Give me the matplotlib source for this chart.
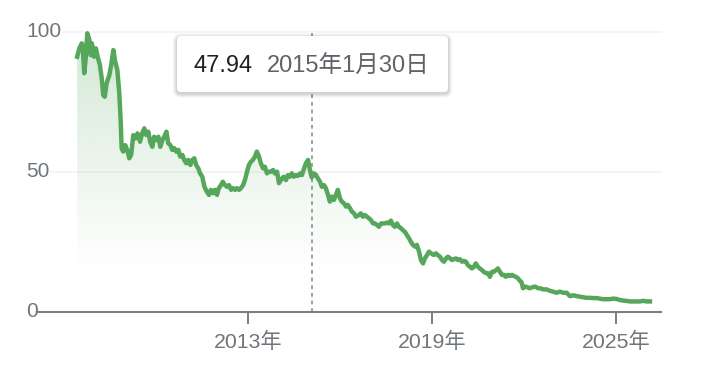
import numpy as np
import matplotlib
matplotlib.use('Agg')
import matplotlib.pyplot as plt
from matplotlib.patches import FancyBboxPatch
from matplotlib.lines import Line2D
from matplotlib.colors import to_rgb
import matplotlib.transforms as mtransforms

plt.rcParams['font.family'] = ['Liberation Sans', 'Noto Sans CJK JP']

# price history (decimal year, price)
years = [
    2007.43, 2007.50, 2007.58, 2007.61, 2007.66, 2007.71, 2007.76, 2007.83, 2007.87, 2007.91,
    2007.98, 2008.04, 2008.11, 2008.17, 2008.23, 2008.28, 2008.33, 2008.39, 2008.48, 2008.54,
    2008.61, 2008.67, 2008.74, 2008.80, 2008.85, 2008.88, 2008.93, 2009.00, 2009.06, 2009.13,
    2009.19, 2009.26, 2009.33,
    2009.40, 2009.48, 2009.55, 2009.62, 2009.68, 2009.75, 2009.81, 2009.88, 2009.94, 2010.01,
    2010.08, 2010.14, 2010.21, 2010.27, 2010.34, 2010.40, 2010.47, 2010.53, 2010.60, 2010.66,
    2010.73, 2010.79, 2010.86, 2010.92, 2010.99, 2011.05, 2011.12, 2011.18, 2011.25, 2011.31,
    2011.38, 2011.44, 2011.51, 2011.58,
    2011.66, 2011.73, 2011.79, 2011.86, 2011.92, 2011.99, 2012.05, 2012.12, 2012.18, 2012.25,
    2012.32, 2012.38, 2012.45, 2012.51, 2012.58, 2012.64, 2012.71, 2012.77, 2012.84, 2012.90,
    2012.97, 2013.03, 2013.10, 2013.16, 2013.23, 2013.29, 2013.36, 2013.42, 2013.49, 2013.55,
    2013.62, 2013.68, 2013.75, 2013.82, 2013.88, 2013.95, 2014.01,
    2014.11, 2014.17, 2014.24, 2014.30, 2014.37, 2014.43, 2014.50, 2014.57, 2014.63, 2014.70,
    2014.76, 2014.83, 2014.89, 2014.96, 2015.02, 2015.08, 2015.15, 2015.22, 2015.28, 2015.35,
    2015.41, 2015.48, 2015.54, 2015.61, 2015.67, 2015.74, 2015.80, 2015.87, 2015.93, 2016.00,
    2016.06, 2016.13, 2016.20, 2016.26, 2016.33, 2016.39, 2016.46, 2016.52,
    2016.62, 2016.68, 2016.75, 2016.81, 2016.88, 2016.95, 2017.01, 2017.08, 2017.14, 2017.21,
    2017.27, 2017.34, 2017.40, 2017.47, 2017.53, 2017.60, 2017.66, 2017.73, 2017.79, 2017.86,
    2017.92, 2017.99, 2018.05, 2018.12, 2018.18, 2018.25, 2018.31, 2018.38, 2018.45, 2018.51,
    2018.58, 2018.64, 2018.71, 2018.77, 2018.84, 2018.90, 2018.97,
    2019.06, 2019.13, 2019.19, 2019.26, 2019.33, 2019.39, 2019.46, 2019.52, 2019.59, 2019.65,
    2019.72, 2019.78, 2019.85, 2019.91, 2019.98, 2020.04, 2020.11, 2020.17, 2020.24, 2020.30,
    2020.37, 2020.43, 2020.50, 2020.56, 2020.63, 2020.69, 2020.76, 2020.83, 2020.89, 2020.96,
    2021.02, 2021.09, 2021.15, 2021.22, 2021.28, 2021.35, 2021.41, 2021.48, 2021.54, 2021.61,
    2021.67, 2021.74, 2021.80, 2021.87, 2021.92, 2021.97,
    2022.04, 2022.11, 2022.19, 2022.28, 2022.37, 2022.46, 2022.54, 2022.63, 2022.74, 2022.85,
    2022.95, 2023.07, 2023.17, 2023.28, 2023.39, 2023.50, 2023.61, 2023.72, 2023.82, 2023.93,
    2024.04, 2024.15, 2024.26, 2024.37, 2024.48, 2024.58, 2024.70, 2024.80, 2024.91, 2025.02,
    2025.13, 2025.24, 2025.35, 2025.46, 2025.56, 2025.67, 2025.78, 2025.89, 2026.00, 2026.11,
]
prices = [
    91.1, 94.1, 95.9, 94.7, 85.2, 90.6, 99.5, 97.1, 91.7, 95.9,
    91.1, 94.1, 90.6, 88.2, 83.4, 77.4, 76.8, 81.6, 84.6, 88.2,
    93.5, 89.3, 86.4, 78.6, 67.9, 58.4, 57.2, 59.5, 57.8, 54.8,
    56.0, 63.1, 61.9,
    63.7, 60.7, 63.7, 65.5, 63.1, 64.3, 60.7, 58.9, 62.5, 61.3,
    62.5, 58.9, 61.3, 62.5, 64.3, 60.2, 59.5, 57.8, 58.4, 57.2,
    57.8, 55.4, 56.0, 54.2, 53.0, 54.2, 52.4, 54.2, 54.8, 52.4,
    51.2, 49.4, 48.2, 44.6,
    42.8, 41.7, 43.5, 42.3, 43.5, 41.7, 44.1, 45.2, 46.4, 45.2,
    44.6, 45.2, 43.5, 44.1, 43.5, 44.1, 43.5, 44.1, 45.2, 47.0,
    50.0, 52.4, 53.6, 54.2, 55.4, 57.2, 55.4, 53.0, 51.2, 51.8,
    49.4, 50.0, 50.0, 50.6, 49.4, 50.0, 45.9,
    47.6, 48.2, 47.0, 48.8, 48.2, 49.4, 48.2, 48.8, 48.5, 49.4,
    48.8, 51.2, 53.0, 54.2, 50.6, 47.94, 49.4, 48.8, 47.6, 46.4,
    44.6, 45.2, 44.1, 41.7, 39.3, 41.1, 39.9, 41.7, 43.5, 40.5,
    39.3, 38.7, 37.5, 38.1, 36.9, 35.7, 35.1, 33.9,
    34.5, 35.1, 33.9, 34.5, 33.9, 33.3, 32.7, 31.5, 31.5, 30.9,
    30.3, 31.5, 31.5, 31.5, 31.8, 31.5, 32.5, 30.9, 30.3, 31.5,
    30.3, 29.8, 29.1, 28.5, 27.4, 26.2, 25.0, 23.8, 23.2, 23.8,
    21.4, 18.4, 17.2, 19.0, 20.2, 21.4, 20.8,
    20.2, 20.8, 20.2, 19.6, 18.4, 17.8, 19.0, 19.6, 19.0, 18.4,
    18.7, 19.0, 18.4, 18.7, 17.8, 18.1, 17.8, 16.6, 16.0, 15.4,
    16.0, 17.2, 16.0, 15.4, 14.8, 14.2, 13.7, 13.7, 12.4, 14.2,
    14.2, 14.8, 15.4, 14.2, 13.1, 13.1, 12.4, 13.1, 12.7, 13.1,
    12.7, 12.4, 11.9, 11.0, 10.5, 8.3,
    8.9, 8.7, 8.3, 8.7, 8.9, 8.3, 8.3, 7.9, 7.9, 7.4,
    7.1, 6.7, 7.1, 6.7, 6.7, 5.5, 5.8, 5.5, 5.3, 5.1,
    4.9, 4.9, 4.8, 4.8, 4.6, 4.4, 4.4, 4.4, 4.6, 4.5,
    4.1, 3.9, 3.8, 3.6, 3.6, 3.6, 3.6, 3.8, 3.6, 3.6,
]

hover_year = 2015 + 29 / 365
hover_price = '47.94'
hover_date = '2015年1月30日'

tick_years = [2013, 2019, 2025]
tick_labels = ['2013年', '2019年', '2025年']
y_ticks = [0, 50, 100]

line_color = '#56a65c'
label_grey = '#70757a'
axis_grey = '#7c8085'
grid_grey = '#f1f3f4'

W, H = 706, 382
fig = plt.figure(figsize=(W / 100, H / 100), dpi=100)
ax = fig.add_axes([37 / W, 70.5 / H, 623.7 / W, 311.5 / H])
# axes above the figure-level gridlines, transparent background
ax.set_zorder(1)
ax.patch.set_visible(False)

# gradient fill under the line
r, g, b = to_rgb(line_color)
grad = np.zeros((256, 1, 4))
grad[..., 0], grad[..., 1], grad[..., 2] = r, g, b
grad[:, 0, 3] = np.linspace(0.26, 0.0, 256)
im = ax.imshow(grad, extent=[years[0], years[-1], 15, 100], aspect='auto',
               origin='upper', zorder=1, interpolation='bilinear')
poly = ax.fill_between(years, prices, 0, color='none', lw=0)
im.set_clip_path(poly.get_paths()[0], transform=ax.transData)

# hover marker line
ax.plot([hover_year, hover_year], [0, 100], color='#80868b', lw=1.1,
        linestyle=(0, (2.5, 2.5)), zorder=2)

ax.plot(years, prices, color=line_color, lw=3.2, zorder=3, solid_joinstyle='round')

ax.set_xlim(2006.12, 2026.46)
ax.set_ylim(0, 111.4)

for s in ['top', 'right', 'left']:
    ax.spines[s].set_visible(False)
ax.spines['bottom'].set_color(axis_grey)
ax.spines['bottom'].set_linewidth(1.5)
ax.set_yticks([])
ax.set_xticks(tick_years, tick_labels)
ax.tick_params(axis='x', length=8.5, width=1.4, color=axis_grey,
               labelcolor=label_grey, labelsize=15.3, pad=6)

# y labels sit left of the plot, gridlines start right after them
blend = mtransforms.blended_transform_factory(fig.transFigure, ax.transData)
ylabels = []
for v in y_ticks:
    t = ax.text(26 / W, v, str(v), transform=blend, ha='left', va='center',
                fontsize=15, color=label_grey, clip_on=False)
    ylabels.append((v, t))

fig.canvas.draw()
renderer = fig.canvas.get_renderer()
for v, t in ylabels:
    if v == 0:
        continue
    bb = t.get_window_extent(renderer)
    yy = ax.transData.transform((2010, v))[1] / H
    fig.add_artist(Line2D([(bb.x1 + 2) / W, 660.7 / W], [yy, yy],
                          transform=fig.transFigure, color=grid_grey, lw=1.2, zorder=0.5))

# tooltip box with soft shadow
ident = mtransforms.IdentityTransform()
bx, by, bw, bh = 177, 290, 271, 56
for i, a in enumerate([0.05, 0.05, 0.06, 0.08]):
    grow = 4 - i
    fig.patches.append(FancyBboxPatch((bx - grow, by - grow - 1.5), bw + 2 * grow, bh + 2 * grow,
                                      boxstyle='round,pad=0,rounding_size=%d' % (4 + grow),
                                      transform=ident, facecolor='#3c4043', edgecolor='none',
                                      alpha=a, zorder=4))
fig.patches.append(FancyBboxPatch((bx, by), bw, bh, boxstyle='round,pad=0,rounding_size=4',
                                  transform=ident, facecolor='white', edgecolor='none', zorder=5))
fig.text(193 / W, 309.5 / H, hover_price, fontsize=17, color='#202124', va='baseline', zorder=6)
fig.text(267 / W, 309.5 / H, hover_date, fontsize=17, color='#5f6368', va='baseline', zorder=6)

fig.savefig('out.png', dpi=100, facecolor='white')
